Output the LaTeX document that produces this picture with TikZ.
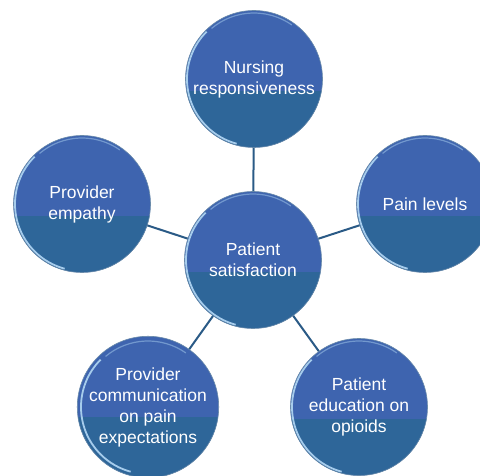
\documentclass[tikz,border=0pt]{standalone}
\usepackage{fontspec}
\setmainfont{Liberation Sans}
\usetikzlibrary{positioning}
\definecolor{satupper}{HTML}{3E64AF}
\definecolor{satlower}{HTML}{2E6699}
\definecolor{satrim}{HTML}{A6CCEC}
\definecolor{satline}{HTML}{2A5A86}

\begin{document}
\begin{tikzpicture}[x=1pt, y=-1pt,
        bubble/.style={circle, minimum size=137pt, inner sep=0pt, align=center, text=white,
          font=\fontsize{17.5}{21}\selectfont, fill=satupper, draw=satline!70, line width=0.6pt,
          path picture={
            \fill[satlower] ([yshift=-80.5pt]path picture bounding box.north west) rectangle (path picture bounding box.south east);
            \draw[satrim, line width=1.8pt] (path picture bounding box.center) ++(135:67pt) arc[start angle=135, end angle=255, radius=67pt];
            \draw[satrim!50!satupper, line width=1.2pt] (path picture bounding box.center) ++(55:66pt) arc[start angle=55, end angle=130, radius=66pt];}},
        link/.style={satline, line width=2pt}]
      \useasboundingbox (0,0) rectangle (480,476);
      \clip (0,0) rectangle (480,476);

      \node[bubble] (sat) at (253,260) {Patient\\satisfaction};
      \node[bubble] (nurse) at (254,79) {Nursing\\responsiveness};
      \node[bubble] (pain) at (425,204) {Pain levels};
      \node[bubble] (empathy) at (82,204) {Provider\\empathy};
      \node[bubble] (comm) at (148,407) {Provider\\communication\\on pain\\expectations};
      \node[bubble] (educ) at (359,407) {Patient\\education on\\opioids};

      \draw[link] (sat) -- (nurse);
      \draw[link] (sat) -- (pain);
      \draw[link] (sat) -- (empathy);
      \draw[link] (sat) -- (comm);
      \draw[link] (sat) -- (educ);
    \end{tikzpicture}
\end{document}
